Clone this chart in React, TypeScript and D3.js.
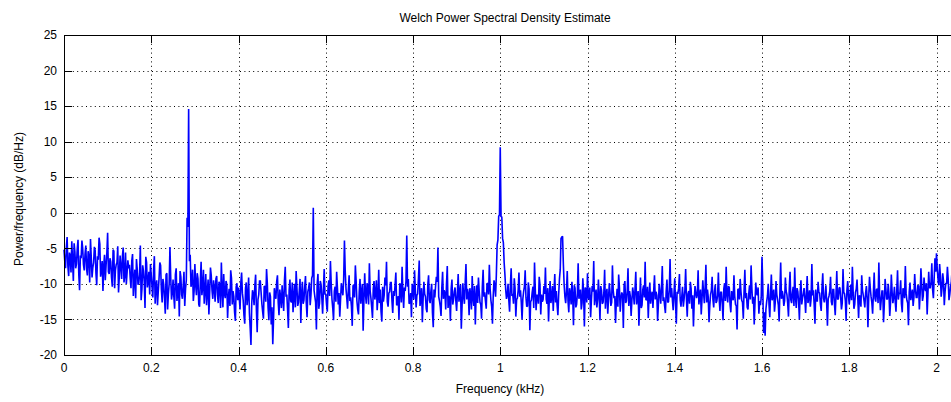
import React from 'react';
import * as d3 from 'd3';

// Welch PSD estimate, bins every 1/560 kHz: "binsA" at k/280 kHz, "binsB" at (k + 0.5)/280 kHz
const binStep = 1 / 280;
const binsA = [
  -5.2,-7.8,-3.4,-8.9,-6.1,-4.0,-9.6,-5.5,-7.2,-3.8,-10.9,-6.4,-5.0,-8.1,
  -4.6,-8.8,-6.2,-3.7,-9.1,-7.0,-5.3,-10.2,-6.6,-4.4,-8.0,-11.0,-5.9,-7.4,
  -2.8,-8.6,-6.9,-10.4,-5.4,-8.1,-7.0,-11.2,-6.0,-9.3,-4.9,-8.8,-10.0,-6.7,
  -7.3,-10.6,-5.8,-9.4,-12.0,-7.9,-9.9,-4.6,-10.8,-8.2,-13.4,-7.0,-9.6,-11.5,
  -8.8,-11.9,-6.1,-10.3,-13.0,-9.2,-7.4,-12.6,-10.1,-14.2,-8.5,-11.4,-4.8,-12.2,
  -9.4,-13.5,-7.8,-11.0,-14.6,-9.0,-12.1,-8.3,-10.7,-0.7,14.6,-5.9,-9.8,-12.4,
  -7.2,-11.6,-9.3,-13.2,-6.9,-10.4,-12.8,-8.6,-11.1,-14.3,-7.7,-10.9,-9.5,-12.5,
  -8.9,-12.7,-10.2,-7.0,-13.3,-11.4,-9.6,-14.8,-10.7,-8.1,-12.9,-11.8,-15.2,-9.9,
  -10.5,-13.6,-8.4,-12.3,-15.6,-9.8,-11.7,-14.1,-18.6,-10.9,-13.0,-8.7,-16.8,-11.5,
  -9.6,-12.8,-14.9,-10.3,-7.9,-13.4,-11.2,-15.7,-18.5,-10.6,-12.1,-8.8,-14.4,-11.9,
  -10.2,-13.8,-7.6,-11.5,-16.2,-9.4,-12.6,-14.0,-10.0,-8.2,-13.1,-11.0,-15.5,-9.7,
  -12.3,-8.9,-14.7,-10.6,-13.0,-9.2,0.7,-11.8,-16.4,-8.6,-12.7,-10.1,-14.2,-7.9,
  -11.4,-13.9,-9.5,-6.8,-12.2,-15.1,-10.4,-8.3,-12.9,-14.6,-9.9,-11.6,-3.9,-10.7,
  -13.5,-8.8,-11.9,-15.9,-10.1,-7.4,-12.4,-14.3,-9.3,-11.2,-16.6,-8.5,-12.8,-10.4,
  -7.1,-12.0,-14.8,-9.6,-11.3,-13.7,-8.0,-10.8,-15.3,-12.5,-9.1,-6.9,-13.2,-11.1,
  -9.8,-14.1,-11.7,-8.4,-12.9,-15.0,-10.3,-7.6,-13.4,-11.0,-3.2,-9.3,-12.6,-14.7,
  -10.6,-8.1,-13.3,-11.4,-6.7,-12.1,-15.4,-9.7,-11.8,-14.0,-8.8,-12.7,-10.0,-16.1,
  -11.9,-9.0,-4.9,-12.4,-14.5,-8.3,-10.9,-13.6,-7.5,-11.7,-15.2,-9.4,-12.2,-10.5,
  -13.8,-8.6,-11.3,-16.3,-9.9,-12.8,-7.2,-10.7,-14.4,-11.5,-8.9,-13.1,-15.7,-10.2,
  -9.1,-12.6,-14.9,-8.0,-11.2,-13.5,-10.0,-7.3,-12.3,-15.6,-9.5,-11.8,-4.5,-0.5,
  9.2,-0.6,-4.2,-8.7,-12.1,-10.0,-13.9,-7.8,-11.4,-9.2,-14.6,-12.0,-8.4,-10.9,
  -15.0,-11.1,-8.1,-13.2,-9.8,-16.5,-12.3,-10.4,-7.0,-13.7,-11.6,-9.0,-14.3,-12.5,
  -10.3,-7.7,-12.8,-15.3,-9.6,-11.9,-13.8,-8.6,-11.0,-14.4,-9.3,-3.6,-3.3,-10.1,
  -12.7,-8.2,-14.0,-11.3,-9.7,-15.8,-10.6,-12.9,-7.1,-11.5,-13.6,-9.2,-16.0,-10.8,
  -8.5,-12.2,-14.7,-10.3,-6.8,-11.8,-13.3,-9.4,-15.1,-10.9,-12.6,-8.0,-11.4,-14.2,
  -9.9,-13.1,-7.4,-12.0,-15.5,-10.7,-8.7,-13.9,-11.2,-16.2,-9.6,-12.4,-7.8,-11.0,
  -14.5,-10.5,-12.9,-8.3,-11.7,-15.9,-9.1,-13.0,-10.2,-6.9,-12.3,-14.8,-9.8,-11.6,
  -13.4,-8.8,-11.1,-15.2,-10.0,-12.8,-7.5,-11.9,-14.1,-9.4,-12.5,-6.5,-10.6,-13.7,
  -9.2,-15.6,-11.4,-8.6,-13.2,-10.4,-12.1,-7.9,-14.6,-11.0,-9.7,-13.5,-16.0,-10.3,
  -12.0,-8.1,-11.7,-14.3,-9.5,-12.7,-7.3,-10.8,-15.4,-11.5,-9.0,-13.3,-10.1,-12.4,
  -8.4,-13.8,-11.2,-15.1,-9.9,-7.6,-12.6,-10.5,-14.0,-11.9,-8.8,-12.9,-16.4,-10.7,
  -9.3,-12.3,-14.9,-8.0,-11.3,-13.6,-10.2,-7.4,-12.8,-15.7,-9.8,-11.6,-14.2,-13.0,
  -6.2,-16.9,-17.3,-12.5,-10.0,-14.7,-8.7,-11.8,-13.9,-9.6,-12.2,-15.3,-7.0,-11.0,
  -13.1,-9.1,-11.5,-14.6,-8.3,-12.7,-10.4,-7.7,-13.4,-11.1,-15.0,-9.5,-12.0,-10.6,
  -14.1,-8.9,-11.9,-13.2,-7.2,-10.9,-15.6,-12.4,-9.7,-11.3,-13.8,-8.5,-12.6,-10.2,
  -15.9,-11.7,-9.0,-13.0,-10.8,-14.4,-8.2,-12.1,-10.5,-13.6,-7.9,-11.4,-15.2,-9.6,
  -12.9,-10.1,-7.6,-13.5,-11.2,-9.4,-14.8,-12.0,-8.8,-11.6,-13.3,-10.3,-16.1,-9.0,
  -11.8,-14.2,-8.4,-12.5,-10.7,-7.0,-13.7,-11.0,-15.4,-9.3,-12.2,-10.0,-14.5,-8.7,
  -12.7,-10.4,-13.9,-8.1,-11.3,-9.5,-14.0,-10.9,-7.5,-12.3,-15.8,-9.8,-11.5,-13.1,
  -8.6,-11.9,-10.2,-13.6,-7.8,-12.4,-9.1,-11.0,-14.3,-8.3,-10.6,-7.1,-12.0,-6.4,
  -5.7,-9.4,-7.2,-11.8,-8.5,-13.0,-9.9,-7.6,-12.3,-10.4,-8.0,-11.2,-13.4,-9.1,
];
const binsB = [
  -6.8,-4.9,-7.5,-5.6,-8.4,-6.9,-4.3,-7.8,-5.1,-8.7,-6.0,-3.9,-7.3,-5.8,
  -7.9,-5.4,-9.8,-6.3,-7.7,-4.8,-8.5,-6.1,-3.5,-9.0,-6.8,-7.5,-9.5,-5.7,
  -8.3,-6.4,-9.1,-5.2,-10.6,-7.3,-4.7,-8.9,-7.6,-6.1,-9.8,-5.6,-8.4,-7.8,
  -9.2,-6.8,-11.7,-8.0,-6.5,-10.1,-8.6,-12.3,-7.4,-9.7,-6.2,-10.5,-8.3,-7.2,
  -10.4,-8.1,-12.8,-9.5,-11.1,-7.0,-10.8,-9.3,-12.0,-8.7,-13.6,-10.0,-9.1,-11.3,
  -11.8,-8.7,-12.4,-9.9,-8.2,-11.5,-10.3,-13.1,-9.5,-2.0,-6.8,-10.4,-8.0,-11.0,
  -10.1,-8.5,-12.9,-9.7,-11.6,-8.0,-10.9,-13.0,-9.4,-11.2,-8.8,-12.1,-10.6,-9.3,
  -11.5,-9.7,-13.4,-10.8,-8.6,-12.0,-10.1,-11.9,-13.1,-9.2,-11.0,-14.0,-10.4,-12.3,
  -12.0,-9.8,-11.3,-14.4,-10.6,-13.0,-9.1,-16.2,-12.7,-11.4,-10.2,-13.7,-12.2,-9.6,
  -11.2,-13.9,-10.4,-12.5,-9.9,-15.1,-11.8,-13.3,-14.9,-11.6,-9.7,-12.6,-10.8,-13.4,
  -12.1,-9.5,-11.8,-13.6,-10.9,-12.4,-9.8,-11.7,-13.3,-10.5,-12.6,-9.3,-11.4,-12.8,
  -10.4,-12.7,-11.1,-9.8,-11.6,-8.8,-10.9,-12.6,-10.0,-13.5,-9.6,-12.0,-10.7,-11.5,
  -12.9,-10.3,-11.7,-9.9,-13.4,-11.0,-12.5,-10.6,-11.3,-12.2,-10.8,-9.4,-8.2,-12.0,
  -10.8,-12.4,-13.2,-10.3,-11.9,-9.6,-13.6,-11.1,-12.8,-10.0,-12.3,-11.4,-9.9,-12.9,
  -11.0,-13.3,-10.7,-12.2,-9.5,-11.8,-12.7,-13.9,-10.4,-11.6,-10.2,-12.5,-11.3,-9.8,
  -12.4,-11.0,-10.1,-13.0,-11.7,-9.9,-12.6,-11.2,-10.5,-9.6,-10.4,-12.8,-11.3,-10.0,
  -12.2,-10.9,-11.6,-9.2,-13.1,-10.6,-12.0,-11.4,-13.5,-10.1,-12.3,-11.0,-14.1,-10.8,
  -10.3,-9.7,-11.8,-13.2,-10.5,-12.1,-11.3,-10.0,-13.4,-11.9,-10.7,-12.9,-11.1,-12.4,
  -11.2,-12.5,-10.1,-13.0,-11.7,-9.8,-12.2,-11.4,-10.6,-13.6,-12.0,-10.3,-11.8,-12.7,
  -11.1,-12.9,-10.4,-11.8,-12.4,-9.9,-11.5,-10.7,-13.2,-11.6,-10.2,-8.7,-3.8,-0.3,
  -0.5,-3.6,-7.0,-10.8,-11.6,-12.3,-10.2,-11.7,-12.8,-10.6,-12.2,-10.9,-11.8,-12.6,
  -12.1,-10.4,-11.9,-13.1,-10.7,-12.5,-11.2,-13.4,-10.9,-11.6,-12.8,-10.1,-11.5,-12.2,
  -11.4,-12.2,-10.6,-11.9,-12.7,-10.3,-11.1,-12.6,-13.0,-11.5,-8.0,-3.4,-7.2,-11.8,
  -11.0,-12.4,-10.6,-12.9,-11.7,-10.2,-13.3,-11.4,-12.1,-10.8,-12.7,-11.3,-10.5,-12.6,
  -11.9,-10.5,-12.3,-11.1,-13.0,-10.8,-12.2,-11.6,-10.3,-12.8,-11.2,-13.5,-10.7,-12.0,
  -11.3,-12.6,-10.9,-11.7,-12.4,-13.2,-10.6,-12.0,-11.5,-10.2,-12.7,-11.0,-13.1,-11.8,
  -12.3,-11.4,-10.7,-12.9,-11.0,-12.5,-13.4,-10.8,-11.9,-12.2,-10.4,-11.7,-12.8,-11.1,
  -10.9,-12.2,-11.6,-12.9,-11.3,-10.5,-12.4,-13.1,-11.0,-12.6,-10.8,-11.9,-12.3,-11.4,
  -12.7,-11.1,-10.6,-12.3,-11.8,-13.2,-10.9,-12.0,-11.4,-12.8,-10.7,-11.6,-12.5,-11.2,
  -11.5,-12.9,-10.8,-12.1,-11.3,-10.4,-12.6,-11.9,-13.0,-10.9,-12.2,-11.1,-12.7,-11.6,
  -12.0,-11.2,-12.8,-10.7,-12.4,-11.5,-10.3,-12.9,-11.0,-12.3,-11.7,-13.1,-10.8,-12.2,
  -11.1,-12.6,-10.9,-12.0,-13.3,-11.4,-12.2,-10.6,-11.8,-12.7,-11.3,-10.5,-12.4,-11.9,
  -10.4,-14.0,-13.6,-11.7,-12.9,-11.2,-12.3,-10.8,-12.6,-11.5,-13.0,-10.9,-12.1,-11.6,
  -12.4,-11.0,-12.8,-10.7,-12.2,-11.3,-13.1,-11.8,-10.6,-12.5,-11.1,-12.9,-11.4,-12.0,
  -11.3,-12.7,-10.9,-12.1,-11.6,-13.0,-10.8,-12.4,-11.2,-12.9,-10.5,-12.0,-11.7,-12.6,
  -12.1,-11.0,-12.5,-10.8,-12.8,-11.4,-12.2,-10.6,-11.9,-12.7,-11.2,-12.4,-10.9,-11.7,
  -11.5,-12.3,-11.1,-12.9,-10.7,-12.1,-11.6,-13.2,-10.9,-12.4,-11.3,-12.0,-11.8,-10.6,
  -12.6,-11.2,-12.0,-10.8,-12.7,-11.5,-12.3,-11.0,-12.9,-10.7,-12.1,-11.4,-12.6,-11.1,
  -11.8,-12.5,-10.9,-12.2,-11.4,-12.8,-10.6,-12.0,-11.3,-12.7,-11.1,-12.3,-10.8,-11.9,
  -10.8,-11.9,-10.3,-11.5,-10.1,-11.7,-10.6,-9.9,-11.4,-10.5,-9.7,-10.8,-9.2,-8.3,
  -7.9,-10.2,-8.8,-10.7,-9.6,-11.1,-10.0,-9.3,-11.5,-9.8,-10.4,-9.1,-11.0,-10.3,
];

const xTicks = [0, 0.2, 0.4, 0.6, 0.8, 1, 1.2, 1.4, 1.6, 1.8, 2];
const yTicks = [-20, -15, -10, -5, 0, 5, 10, 15, 20, 25];

const W = 951;
const H = 402;
const left = 64;
const top = 35;
const bottom = 355;
const font = '"Liberation Sans", Arial, Helvetica, sans-serif';

export default function App() {
  const x = d3.scaleLinear().domain([0, 2]).range([left, 936.5]);
  const y = d3.scaleLinear().domain([-20, 25]).range([bottom, top]);

  // merge both bin sets into one frequency-ordered trace
  const points: [number, number][] = [];
  binsA.forEach((v, i) => {
    points.push([i * binStep, v]);
    if (binsB[i] != null) points.push([(i + 0.5) * binStep, binsB[i]]);
  });

  const line = d3
    .line<[number, number]>()
    .x((d) => x(d[0]))
    .y((d) => y(d[1]));

  return (
    <svg
      width={W}
      height={H}
      style={{ position: 'absolute', left: 0, top: 0, background: '#fff' }}
      fontFamily={font}
    >
      <rect x={0} y={0} width={W} height={H} fill="#fff" />

      {/* grid */}
      {yTicks
        .filter((t) => t > -20 && t < 25)
        .map((t) => (
          <line
            key={'gy' + t}
            x1={left}
            x2={W}
            y1={Math.round(y(t)) + 0.5}
            y2={Math.round(y(t)) + 0.5}
            stroke="#000"
            strokeWidth={1}
            strokeDasharray="1 3.4"
          />
        ))}
      {xTicks
        .filter((t) => t > 0)
        .map((t) => (
          <line
            key={'gx' + t}
            x1={Math.round(x(t)) + 0.5}
            x2={Math.round(x(t)) + 0.5}
            y1={top}
            y2={bottom}
            stroke="#000"
            strokeWidth={1}
            strokeDasharray="1 3.4"
          />
        ))}

      <path
        d={line(points) || ''}
        fill="none"
        stroke="#0000ff"
        strokeWidth={1.6}
        strokeLinejoin="miter"
        strokeMiterlimit={2}
      />

      {/* axes */}
      <line x1={left} x2={W} y1={top + 0.5} y2={top + 0.5} stroke="#000" strokeWidth={1} />
      <line x1={left} x2={W} y1={bottom + 0.5} y2={bottom + 0.5} stroke="#000" strokeWidth={1} />
      <line x1={left + 0.5} x2={left + 0.5} y1={top} y2={bottom + 1} stroke="#000" strokeWidth={1} />

      {yTicks.map((t) => (
        <g key={'ty' + t}>
          <line
            x1={left}
            x2={left + 8}
            y1={Math.round(y(t)) + 0.5}
            y2={Math.round(y(t)) + 0.5}
            stroke="#000"
          />
          <text x={left - 7} y={y(t)} dy="0.35em" textAnchor="end" fontSize={12} fill="#000">
            {t}
          </text>
        </g>
      ))}

      {xTicks.map((t) => (
        <g key={'tx' + t}>
          <line x1={Math.round(x(t)) + 0.5} x2={Math.round(x(t)) + 0.5} y1={top} y2={top + 8} stroke="#000" />
          <line x1={Math.round(x(t)) + 0.5} x2={Math.round(x(t)) + 0.5} y1={bottom - 8} y2={bottom} stroke="#000" />
          <text x={x(t)} y={bottom + 17} textAnchor="middle" fontSize={12} fill="#000">
            {t}
          </text>
        </g>
      ))}

      <text x={505} y={22} textAnchor="middle" fontSize={12} fill="#000">
        Welch Power Spectral Density Estimate
      </text>
      <text x={500} y={393} textAnchor="middle" fontSize={12} fill="#000">
        Frequency (kHz)
      </text>
      <text
        transform={`translate(23,199) rotate(-90)`}
        textAnchor="middle"
        fontSize={12}
        fill="#000"
      >
        Power/frequency (dB/Hz)
      </text>
    </svg>
  );
}
